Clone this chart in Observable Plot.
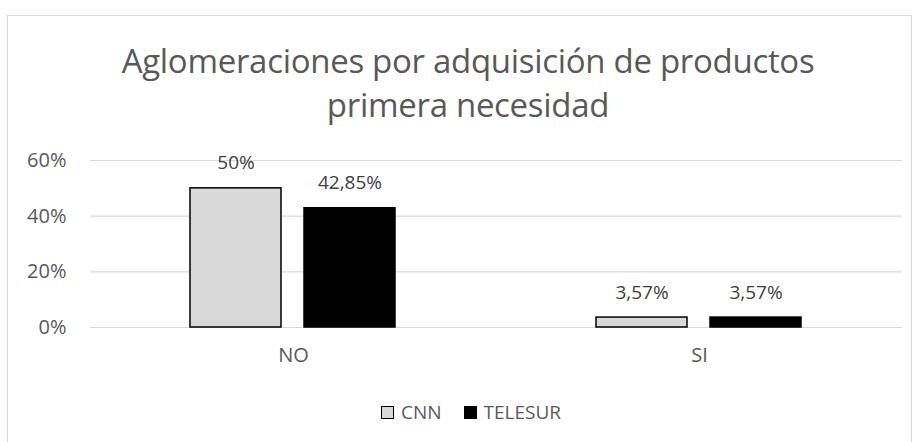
<!DOCTYPE html>
<html>
<head>
<meta charset="utf-8">
<script src="https://cdn.jsdelivr.net/npm/d3@7"></script>
<script src="https://cdn.jsdelivr.net/npm/@observablehq/plot@0.6"></script>
<style>
  body { margin: 0; background: #fff; }
  #wrap { position: relative; width: 917px; height: 442px; overflow: hidden; font-family: "Open Sans", sans-serif; }
  #border { position: absolute; left: 7px; top: 15px; width: 905px; height: 440px; border: 1px solid #d9d9d9; box-sizing: border-box; }
  #title { position: absolute; left: 0; width: 936px; top: 39px; text-align: center; font-size: 33px; font-weight: 400; color: #595959; line-height: 44px; letter-spacing: -0.3px; }
  #chart { position: absolute; left: 0; top: 0; }
  #chart g[aria-label^="y-axis"] text, #chart g[aria-label^="fx-axis"] text { font-size: 20px; }
  #legend { position: absolute; top: 399px; left: 0; width: 942px; display: flex; justify-content: center; align-items: center; font-size: 19px; color: #595959; }
  .sw { display: inline-block; width: 13px; height: 13px; margin-right: 7px; box-sizing: border-box; }
  .item { display: flex; align-items: center; margin: 0 11px; }
</style>
</head>
<body>
<div id="wrap">
  <div id="border"></div>
  <div id="title">Aglomeraciones por adquisición de productos<br>primera necesidad</div>
  <div id="chart"></div>
  <div id="legend"></div>
</div>
<script>
const categories = ["NO", "SI"];
const series = ["CNN", "TELESUR"];
const cnnValues = [0.50, 0.0357];
const telesurValues = [0.4285, 0.0357];
const cnnLabels = ["50%", "3,57%"];
const telesurLabels = ["42,85%", "3,57%"];
const yTicks = [0, 0.2, 0.4, 0.6];
const yTickLabels = ["0%", "20%", "40%", "60%"];
const fills = {CNN: "#d9d9d9", TELESUR: "#000000"};

const data = [];
categories.forEach((c, i) => {
  data.push({cat: c, series: "CNN", value: cnnValues[i], label: cnnLabels[i]});
  data.push({cat: c, series: "TELESUR", value: telesurValues[i], label: telesurLabels[i]});
});

const chart = Plot.plot({
  width: 917,
  height: 442,
  marginTop: 160,
  marginBottom: 115,
  marginLeft: 89,
  marginRight: 15,
  style: {fontFamily: "Open Sans, sans-serif", fontSize: "19px", color: "#595959", background: "transparent", overflow: "visible"},
  fx: {domain: categories, padding: 0, label: null, tickSize: 0, tickPadding: 20, axis: "bottom"},
  x: {domain: series, axis: null, paddingInner: 0.2, paddingOuter: 0.867},
  y: {domain: [0, 0.6], ticks: yTicks, tickFormat: (d) => yTickLabels[yTicks.indexOf(d)], tickSize: 0, tickPadding: 24, label: null},
  color: {domain: series, range: series.map(s => fills[s])},
  marks: [
    Plot.ruleY(yTicks, {stroke: "#d9d9d9", strokeWidth: 1.2}),
    Plot.barY(data, {fx: "cat", x: "series", y: "value", fill: "series", stroke: "#000", strokeWidth: 1.5}),
    Plot.text(data, {fx: "cat", x: "series", y: "value", text: "label", lineAnchor: "bottom", dy: -19, fill: "#404040", fontSize: 19})
  ]
});
document.getElementById("chart").appendChild(chart);

const legend = document.getElementById("legend");
series.forEach(s => {
  const item = document.createElement("div");
  item.className = "item";
  const sw = document.createElement("span");
  sw.className = "sw";
  sw.style.background = fills[s];
  sw.style.border = "1.5px solid #000";
  item.appendChild(sw);
  item.appendChild(document.createTextNode(s));
  legend.appendChild(item);
});
</script>
</body>
</html>
